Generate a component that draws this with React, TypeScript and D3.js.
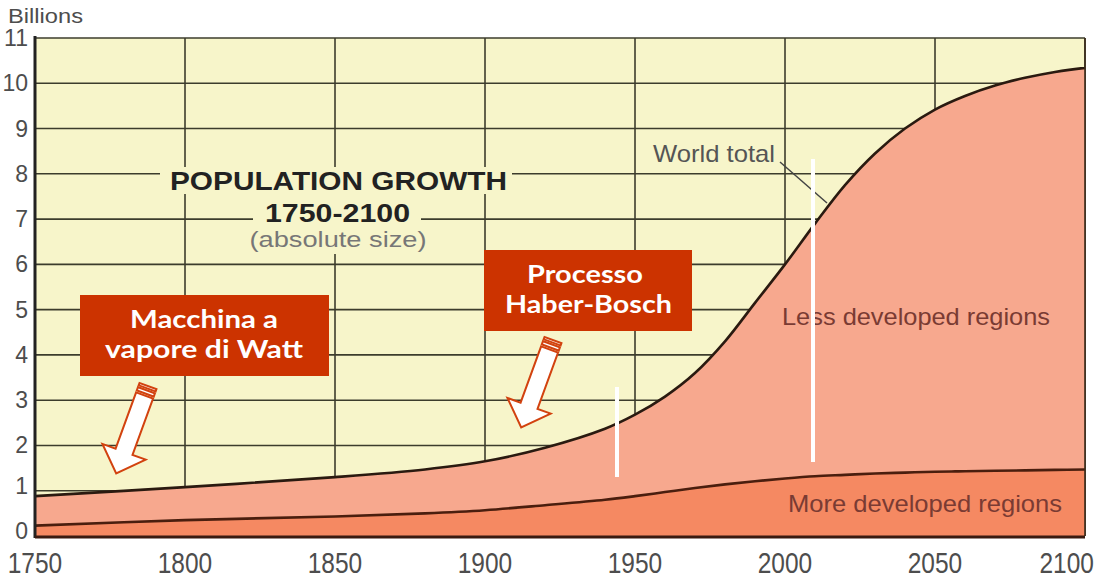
import React from 'react';
import * as d3 from 'd3';

const years = [1750, 1800, 1850, 1880, 1900, 1920, 1940, 1950, 1960, 1970, 1980, 1990, 2000, 2010, 2020, 2030, 2040, 2050, 2060, 2070, 2080, 2090, 2100];
const worldTotal = [0.88, 1.08, 1.3, 1.47, 1.65, 1.95, 2.37, 2.68, 3.08, 3.6, 4.3, 5.15, 6.0, 6.9, 7.75, 8.45, 9.0, 9.42, 9.72, 9.95, 10.12, 10.25, 10.34];
const moreDeveloped = [0.23, 0.35, 0.43, 0.5, 0.57, 0.68, 0.8, 0.88, 0.97, 1.06, 1.14, 1.21, 1.27, 1.32, 1.35, 1.38, 1.4, 1.42, 1.43, 1.44, 1.45, 1.46, 1.47];
const yTicks = [0, 1, 2, 3, 4, 5, 6, 7, 8, 9, 10, 11];
const xTicks = [1750, 1800, 1850, 1900, 1950, 2000, 2050, 2100];

const BG = '#f7f5ca';
const LESS = '#f7a88e';
const MORE = '#f58962';
const GRID = '#3c3c2c';
const RED = '#cc3300';
const ARROW = '#d2420f';

function Arrow({ tx, ty, angle }: { tx: number; ty: number; angle: number }) {
  const L = 93, w = 9, hw = 23, hb = 70, s0 = 10;
  const body = `M${-w},${s0} L${w},${s0} L${w},${hb} L${hw},${hb} L0,${L} L${-hw},${hb} L${-w},${hb} Z`;
  return (
    <g transform={`translate(${tx},${ty}) rotate(${angle})`} fill="#ffffff" stroke={ARROW} strokeWidth={2} strokeLinejoin="miter">
      <rect x={-w} y={0} width={2 * w} height={2.5} />
      <rect x={-w} y={4.5} width={2 * w} height={3.5} />
      <path d={body} />
    </g>
  );
}

export default function App() {
  const W = 1097, H = 580;
  const x = d3.scaleLinear().domain([1750, 2100]).range([35, 1085]);
  const y = d3.scaleLinear().domain([0, 11]).range([536, 38]);
  const data = years.map((yr, i) => ({ yr, w: worldTotal[i], m: moreDeveloped[i] }));
  const curve = d3.curveCatmullRom.alpha(0.5);
  const areaMore = d3.area<any>().x(d => x(d.yr)).y0(y(0)).y1(d => y(d.m)).curve(curve);
  const areaLess = d3.area<any>().x(d => x(d.yr)).y0(d => y(d.m)).y1(d => y(d.w)).curve(curve);
  const lineW = d3.line<any>().x(d => x(d.yr)).y(d => y(d.w)).curve(curve);
  const lineM = d3.line<any>().x(d => x(d.yr)).y(d => y(d.m)).curve(curve);
  const font = "'Liberation Sans', Arial, Helvetica, sans-serif";
  const boxFont = "Lato, 'Open Sans', sans-serif";
  const [x0, x1] = x.range();
  const [yb, yt] = y.range();

  return (
    <svg width={W} height={H} style={{ position: 'absolute', left: 0, top: 0, background: '#fff' }} fontFamily={font}>
      <rect x={0} y={0} width={W} height={H} fill="#ffffff" />
      {/* plot background */}
      <rect x={x0} y={yt} width={x1 - x0} height={yb - yt} fill={BG} />
      {/* grid */}
      {yTicks.map(v => (
        <line key={'gy' + v} x1={x0} x2={x1} y1={y(v)} y2={y(v)} stroke={GRID} strokeWidth={1.6} />
      ))}
      {xTicks.map(v => (
        <line key={'gx' + v} x1={x(v)} x2={x(v)} y1={yt} y2={yb} stroke={GRID} strokeWidth={1.6} />
      ))}
      {/* title masks */}
      <rect x={160} y={167} width={352} height={27} fill={BG} />
      <rect x={253} y={194} width={168} height={60} fill={BG} />
      {/* areas */}
      <path d={areaLess(data) || ''} fill={LESS} />
      <path d={areaMore(data) || ''} fill={MORE} />
      <path d={lineM(data) || ''} fill="none" stroke="#4a1e0e" strokeWidth={2.6} />
      <path d={lineW(data) || ''} fill="none" stroke="#2a1a10" strokeWidth={2.6} />
      {/* axes */}
      <line x1={x0} x2={x0} y1={yt - 2} y2={yb + 2} stroke="#222" strokeWidth={3} />
      <line x1={x0} x2={x1} y1={yb + 1} y2={yb + 1} stroke="#3a1a10" strokeWidth={3} />
      <line x1={x1} x2={x1} y1={yt} y2={yb} stroke="#3a2a1a" strokeWidth={1.6} />
      {/* y tick labels */}
      {yTicks.map(v => (
        <text key={'ty' + v} x={28} y={y(v) + (v <= 1 ? 3 : 8)} textAnchor="end" fontSize={23} fill="#4d4d4d">{v}</text>
      ))}
      <text x={8} y={23} fontSize={21} fill="#4d4d4d" textLength={75} lengthAdjust="spacingAndGlyphs">Billions</text>
      {/* x tick labels */}
      {xTicks.map((v, i) => (
        <g key={'tx' + v} transform={`translate(${i === xTicks.length - 1 ? 1094 : x(v)},573) scale(1,1.17)`}>
          <text x={0} y={0} textAnchor={i === xTicks.length - 1 ? 'end' : 'middle'} fontSize={24.5} fill="#4d4d4d">{v}</text>
        </g>
      ))}
      {/* chart title */}
      <text x={338.5} y={190} textAnchor="middle" fontSize={25} fontWeight="bold" fill="#222" textLength={337} lengthAdjust="spacingAndGlyphs">POPULATION GROWTH</text>
      <text x={337.5} y={222} textAnchor="middle" fontSize={25} fontWeight="bold" fill="#222" textLength={145} lengthAdjust="spacingAndGlyphs">1750-2100</text>
      <text x={338} y={247} textAnchor="middle" fontSize={22} fill="#777" textLength={177} lengthAdjust="spacingAndGlyphs">(absolute size)</text>
      {/* series labels */}
      <text x={653} y={162} fontSize={24} fill="#555" textLength={122} lengthAdjust="spacingAndGlyphs">World total</text>
      <line x1={780} y1={162} x2={827} y2={203} stroke="#444" strokeWidth={1.5} />
      <text x={782} y={325} fontSize={24} fill="#7a3b33" textLength={268} lengthAdjust="spacingAndGlyphs">Less developed regions</text>
      <text x={788} y={512} fontSize={24} fill="#7a3b33" textLength={274} lengthAdjust="spacingAndGlyphs">More developed regions</text>
      {/* white markers */}
      <line x1={617} x2={617} y1={387} y2={477} stroke="#fff" strokeWidth={4} />
      <line x1={813} x2={813} y1={159} y2={462} stroke="#fff" strokeWidth={4} />
      {/* annotation boxes */}
      <rect x={80} y={295} width={249} height={81} fill={RED} />
      <text x={204} y={328} textAnchor="middle" fontSize={25} fontWeight="bold" fill="#fff" fontFamily={boxFont} textLength={148} lengthAdjust="spacingAndGlyphs">Macchina a</text>
      <text x={204} y={358} textAnchor="middle" fontSize={25} fontWeight="bold" fill="#fff" fontFamily={boxFont} textLength={198} lengthAdjust="spacingAndGlyphs">vapore di Watt</text>
      <rect x={484} y={250} width={208} height={81} fill={RED} />
      <text x={585} y={283} textAnchor="middle" fontSize={25} fontWeight="bold" fill="#fff" fontFamily={boxFont} textLength={116} lengthAdjust="spacingAndGlyphs">Processo</text>
      <text x={588.5} y={313} textAnchor="middle" fontSize={25} fontWeight="bold" fill="#fff" fontFamily={boxFont} textLength={167} lengthAdjust="spacingAndGlyphs">Haber-Bosch</text>
      {/* arrows */}
      <Arrow tx={148} ty={386} angle={20} />
      <Arrow tx={553} ty={340} angle={20} />
    </svg>
  );
}
